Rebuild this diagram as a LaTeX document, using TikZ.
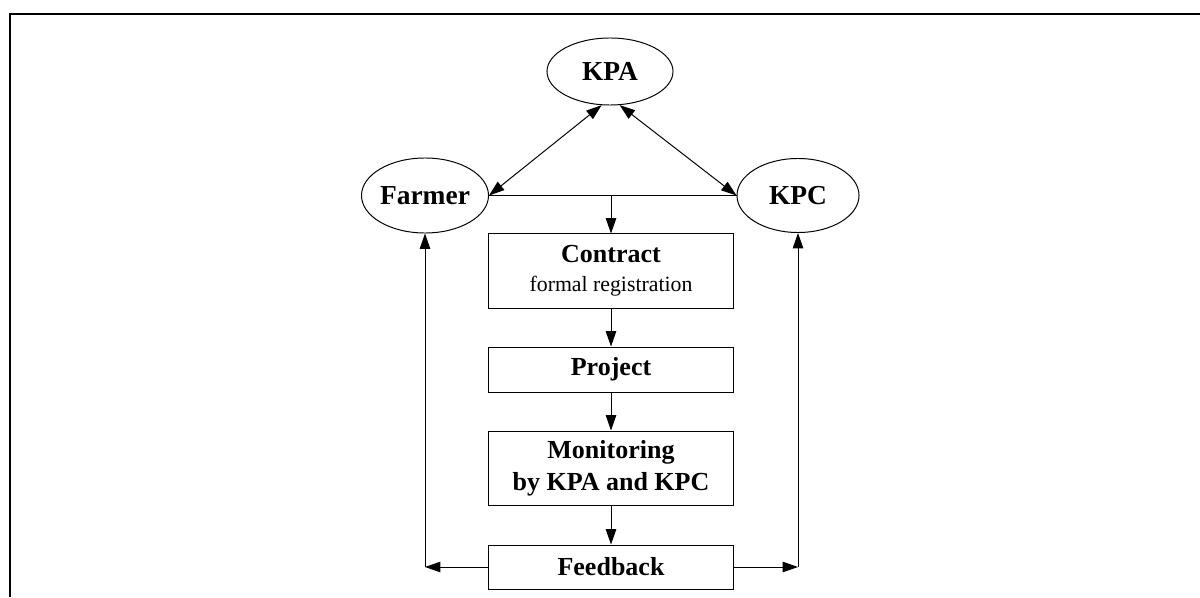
\documentclass[tikz,border=0pt]{standalone}
\usepackage{fontspec}
\setmainfont{Liberation Serif}
\usetikzlibrary{arrows.meta,shapes.geometric}

\tikzset{
	party/.style = {ellipse, draw, line width=0.7pt, inner sep=0pt, font=\fontsize{19.5}{23}\selectfont\bfseries},
	stage/.style = {rectangle, draw, line width=0.7pt, inner sep=0pt, minimum width=6.1cm, align=center, font=\fontsize{18.5}{22.8}\selectfont\bfseries},
	flow/.style = {line width=0.7pt, -{Triangle[length=11pt,width=7.5pt]}},
	link/.style = {line width=0.7pt, {Triangle[length=11pt,width=7.5pt]}-{Triangle[length=11pt,width=7.5pt]}}
}

\begin{document}
\begin{tikzpicture}[x=0.025cm, y=-0.025cm]
	\useasboundingbox (0,0) rectangle (1200,597);
	\draw[line width=1.3pt] (10,597) -- (10,14) -- (1200,14);
	% parties
	\node[party, minimum width=3.15cm, minimum height=1.675cm] (KPA) at (610,71.5) {KPA};
	\node[party, minimum width=3.15cm, minimum height=1.875cm] (Farmer) at (425,195.5) {Farmer};
	\node[party, minimum width=3.05cm, minimum height=1.85cm] (KPC) at (798,195.5) {KPC};
	% stages
	\node[stage, minimum height=1.85cm] (Contract) at (611,271) {Contract\\[-2pt]{\fontsize{15.5}{18.5}\selectfont\mdseries formal registration}};
	\node[stage, minimum height=1.125cm] (Project) at (611,369.5) {Project};
	\node[stage, minimum height=1.85cm] (Monitoring) at (611,468) {Monitoring\\by KPA and KPC};
	\node[stage, minimum height=1.1cm] (Feedback) at (611,567) {Feedback};
	% links
		\draw[link] (KPA.-104) -- (Farmer.east);
		\draw[link] (KPA.-74) -- (KPC.west);
		\draw[line width=0.7pt] (Farmer.east) -- (KPC.west);
		\coordinate (join) at (Contract.north |- Farmer.east);
		\draw[flow] (join) -- (Contract.north);
		\draw[flow] (Contract) -- (Project);
		\draw[flow] (Project) -- (Monitoring);
		\draw[flow] (Monitoring) -- (Feedback);
		\coordinate (backL) at (Farmer.south |- Feedback.west);
		\coordinate (backR) at (KPC.south |- Feedback.east);
		\draw[flow] (Feedback.west) -- (backL);
		\draw[flow] (backL) -- (Farmer.south);
		\draw[flow] (Feedback.east) -- (backR);
		\draw[flow] (backR) -- (KPC.south);
\end{tikzpicture}
\end{document}
